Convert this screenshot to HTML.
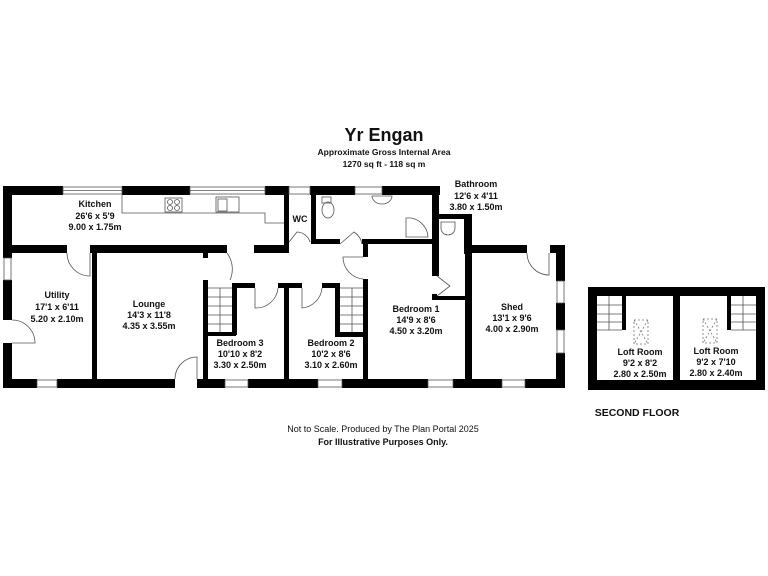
<!DOCTYPE html>
<html><head><meta charset="utf-8"><style>
html,body{margin:0;padding:0;background:#fff}
svg{display:block}
text{font-family:"Liberation Sans",Arial,sans-serif;font-weight:bold;fill:#111;text-anchor:middle}
</style></head><body>
<svg width="768" height="576" viewBox="0 0 768 576" xmlns="http://www.w3.org/2000/svg">
<text x="384" y="141" font-size="18">Yr Engan</text>
<text x="384" y="155" font-size="8.5">Approximate Gross Internal Area</text>
<text x="384" y="167" font-size="8.5">1270 sq ft - 118 sq m</text>

<g fill="#000">
<rect x="3" y="186" width="60" height="9"/>
<rect x="122" y="186" width="68" height="9"/>
<rect x="265" y="186" width="23" height="9"/>
<rect x="310" y="186" width="45" height="9"/>
<rect x="382" y="186" width="58" height="9"/>
<rect x="3" y="186" width="9" height="72"/>
<rect x="3" y="280" width="9" height="40"/>
<rect x="3" y="343" width="9" height="45"/>
<rect x="284" y="186" width="5" height="59"/>
<rect x="311" y="186" width="5" height="56"/>
<rect x="311" y="239" width="29" height="5"/>
<rect x="362" y="239" width="73" height="5"/>
<rect x="432" y="186" width="7" height="90"/>
<rect x="432" y="294" width="5" height="6"/>
<rect x="432" y="296" width="36" height="4"/>
<rect x="439" y="214" width="33" height="5"/>
<rect x="464" y="214" width="8" height="40"/>
<rect x="3" y="245" width="64" height="8"/>
<rect x="90" y="245" width="137" height="8"/>
<rect x="254" y="245" width="35" height="8"/>
<rect x="203" y="253" width="5" height="5"/>
<rect x="92" y="251" width="5" height="133"/>
<rect x="203" y="280" width="5" height="104"/>
<rect x="203" y="332" width="33" height="4"/>
<rect x="232" y="283" width="5" height="52"/>
<rect x="232" y="283" width="23" height="5"/>
<rect x="278" y="283" width="24" height="5"/>
<rect x="284" y="283" width="5" height="101"/>
<rect x="322" y="283" width="18" height="5"/>
<rect x="335" y="283" width="5" height="52"/>
<rect x="335" y="332" width="30" height="5"/>
<rect x="363" y="244" width="5" height="13"/>
<rect x="363" y="279" width="5" height="105"/>
<rect x="465" y="245" width="62" height="8"/>
<rect x="465" y="245" width="7" height="139"/>
<rect x="550" y="245" width="15" height="8"/>
<rect x="556" y="245" width="9" height="36"/>
<rect x="556" y="303" width="9" height="27"/>
<rect x="556" y="353" width="9" height="35"/>
<rect x="3" y="379" width="34" height="9"/>
<rect x="57" y="379" width="118" height="9"/>
<rect x="197" y="379" width="28" height="9"/>
<rect x="248" y="379" width="70" height="9"/>
<rect x="342" y="379" width="86" height="9"/>
<rect x="453" y="379" width="49" height="9"/>
<rect x="525" y="379" width="40" height="9"/>
<rect x="588" y="287" width="177" height="9"/>
<rect x="588" y="380" width="177" height="10"/>
<rect x="588" y="287" width="9" height="103"/>
<rect x="756" y="287" width="9" height="103"/>
<rect x="673" y="287" width="7" height="103"/>
<rect x="622" y="296" width="4" height="34"/>
<rect x="727" y="296" width="4" height="34"/>
</g>

<g fill="none" stroke="#555" stroke-width="0.8">
<rect x="63" y="187" width="59" height="7"/><line x1="63" y1="190.5" x2="122" y2="190.5"/>
<rect x="190" y="187" width="75" height="7"/><line x1="190" y1="190.5" x2="265" y2="190.5"/>
<rect x="289" y="187" width="21" height="7"/>
<rect x="355" y="187" width="27" height="7"/>
<rect x="4" y="258" width="7" height="22"/>
<rect x="37" y="380" width="20" height="7"/>
<rect x="225" y="380" width="23" height="7"/>
<rect x="318" y="380" width="24" height="7"/>
<rect x="428" y="380" width="25" height="7"/>
<rect x="502" y="380" width="23" height="7"/>
<rect x="557" y="281" width="7" height="22"/>
<rect x="557" y="330" width="7" height="23"/>
<polyline points="122,195 122,213 265,213 265,223 284,223"/>
<rect x="165" y="198" width="17" height="14"/><circle cx="170" cy="202" r="2.5"/><circle cx="177" cy="202" r="2.5"/><circle cx="170" cy="208" r="2.5"/><circle cx="177" cy="208" r="2.5"/>
<rect x="216" y="197" width="23" height="15"/><rect x="218" y="199" width="9" height="12"/>
<rect x="322" y="197" width="9" height="6"/><ellipse cx="328" cy="210" rx="6" ry="8"/>
<path d="M372,196 a10,8 0 0 0 20,0 z"/>
<path d="M406,237 L406,218 A20,20 0 0 1 428,237 Z"/>
<path d="M441,222 h14 v6 a7,7 0 0 1 -14,0z"/>
<path d="M67,253 A23,23 0 0 0 90,276 L90,253"/>
<path d="M227,253 L227,253 A27,27 0 0 1 230,280"/>
<path d="M12,320 A23,23 0 0 1 35,343 L12,343"/>
<path d="M175,379 A22,22 0 0 1 197,357 L197,379"/>
<path d="M255,288 L255,308 A22,22 0 0 0 278,288"/>
<path d="M302,288 L302,308 A22,22 0 0 0 322,288"/>
<path d="M363,257 L343,257 A22,22 0 0 0 363,279"/>
<path d="M340,244 L354,232 A18,18 0 0 1 362,244"/>
<path d="M289,242 L297,232 A14,14 0 0 1 310,242"/>
<path d="M437,276 L450,286 L437,296"/>
<path d="M527,253 A22,22 0 0 0 549,275 L549,253"/>
<path d="M208,288 H232 M208,297 H232 M208,306 H232 M208,315 H232 M208,324 H232 M220,288 V332"/>
<path d="M340,288 H363 M340,297 H363 M340,306 H363 M340,315 H363 M340,324 H363 M352,288 V332"/>
<path d="M597,305 H622 M597,314 H622 M597,322 H622 M609,296 V330 M597,330 H622"/>
<path d="M731,305 H756 M731,314 H756 M731,322 H756 M743,296 V330 M731,330 H756"/>
</g>
<g fill="none" stroke="#777" stroke-width="0.8" stroke-dasharray="2,2">
<rect x="634" y="320" width="14" height="24"/><path d="M634,320 L648,344 M648,320 L634,344"/>
<rect x="703" y="319" width="14" height="24"/><path d="M703,319 L717,343 M717,319 L703,343"/>
</g>

<g font-size="9">
<text x="95" y="207">Kitchen</text><text x="95" y="219">26'6 x 5'9</text><text x="95" y="230">9.00 x 1.75m</text>
<text x="300" y="222">WC</text>
<text x="476" y="187">Bathroom</text><text x="476" y="199">12'6 x 4'11</text><text x="476" y="210">3.80 x 1.50m</text>
<text x="57" y="298">Utility</text><text x="57" y="310">17'1 x 6'11</text><text x="57" y="322">5.20 x 2.10m</text>
<text x="149" y="307">Lounge</text><text x="149" y="318">14'3 x 11'8</text><text x="149" y="329">4.35 x 3.55m</text>
<text x="240" y="346">Bedroom 3</text><text x="240" y="357">10'10 x 8'2</text><text x="240" y="368">3.30 x 2.50m</text>
<text x="331" y="346">Bedroom 2</text><text x="331" y="357">10'2 x 8'6</text><text x="331" y="368">3.10 x 2.60m</text>
<text x="416" y="312">Bedroom 1</text><text x="416" y="323">14'9 x 8'6</text><text x="416" y="334">4.50 x 3.20m</text>
<text x="512" y="310">Shed</text><text x="512" y="321">13'1 x 9'6</text><text x="512" y="332">4.00 x 2.90m</text>
<text x="640" y="355">Loft Room</text><text x="640" y="366">9'2 x 8'2</text><text x="640" y="377">2.80 x 2.50m</text>
<text x="716" y="354">Loft Room</text><text x="716" y="365">9'2 x 7'10</text><text x="716" y="376">2.80 x 2.40m</text>
</g>
<text x="637" y="416" font-size="10.5">SECOND FLOOR</text>
<text x="383" y="432" font-size="9" style="font-weight:normal">Not to Scale. Produced by The Plan Portal 2025</text>
<text x="383" y="445" font-size="9">For Illustrative Purposes Only.</text>
</svg>
</body></html>
